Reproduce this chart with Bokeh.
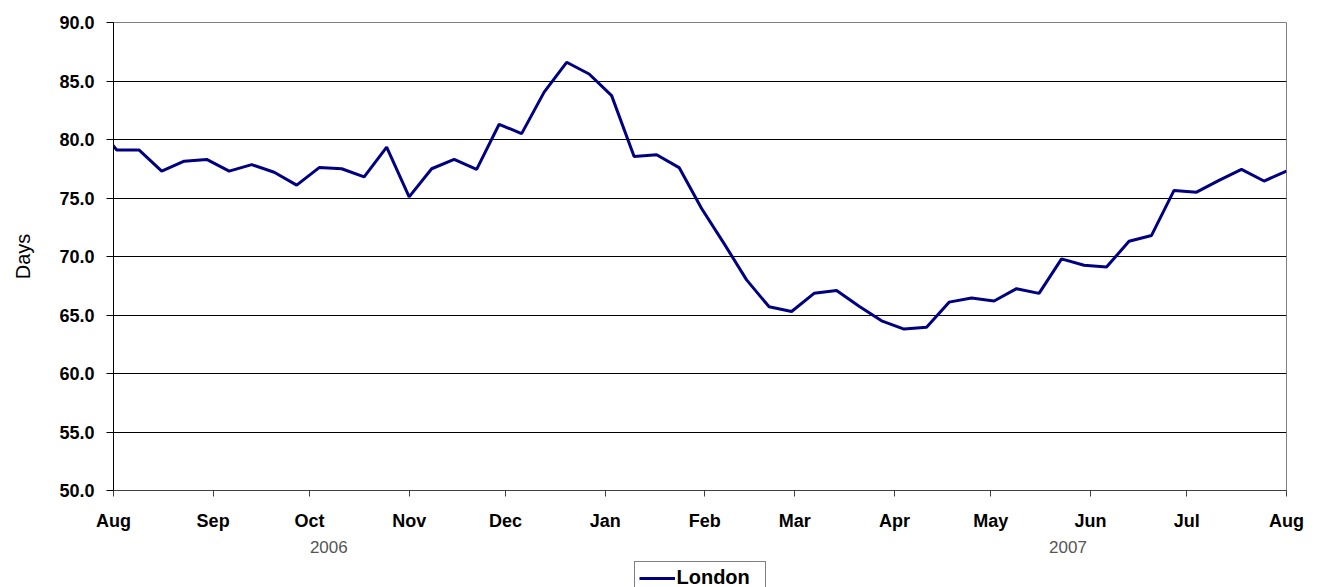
import pandas as pd
from bokeh.plotting import figure
from bokeh.layouts import column
from bokeh.models import (DatetimeTickFormatter, MonthsTicker, FixedTicker, NumeralTickFormatter,
                          Range1d, Legend, LegendItem, LinearAxis)
from bokeh.embed import file_html
from bokeh.resources import INLINE

# ---------------- data ----------------
series_name = "London"
first_week = "2006-07-26"          # weekly observations (first one lies just before the axis start)
days_values = [81.5, 79.1, 79.1, 77.3, 78.15, 78.3, 77.3, 77.85, 77.2, 76.1, 77.6, 77.5, 76.8, 79.35,
               75.1, 77.5, 78.3, 77.45, 81.3, 80.5, 84.05, 86.6, 85.6, 83.75, 78.55, 78.7, 77.6,
               74.1, 71.1, 68.0, 65.7, 65.3, 66.85, 67.1, 65.75, 64.5, 63.8, 63.95, 66.1, 66.45,
               66.2, 67.25, 66.85, 69.8, 69.25, 69.1, 71.3, 71.8, 75.65, 75.5, 76.5, 77.45, 76.45, 77.3]
x_start = "2006-08-01"
x_end = "2007-08-01"
y_ticks = [50.0, 55.0, 60.0, 65.0, 70.0, 75.0, 80.0, 85.0, 90.0]
year_labels = ["2006", "2007"]
year_label_dates = ["2006-10-07", "2007-05-25"]
y_axis_title = "Days"

dates = pd.date_range(first_week, periods=len(days_values), freq="7D")

FONT = "Liberation Sans"
LINE_COLOR = "#000080"

def ms(d):
    return int(pd.Timestamp(d).value // 1_000_000)

x_rng = Range1d(ms(x_start), ms(x_end))

p = figure(width=1319, height=559, x_axis_type="datetime",
           x_range=x_rng,
           y_range=Range1d(y_ticks[0], y_ticks[-1]),
           output_backend="svg", toolbar_location=None,
           min_border_left=113, min_border_right=33, min_border_top=22, min_border_bottom=69)

p.background_fill_color = "white"
p.border_fill_color = "white"
p.outline_line_color = "#808080"
p.outline_line_width = 1

r = p.line(x=dates, y=days_values, line_color=LINE_COLOR, line_width=3)

# grid
p.xgrid.visible = False
p.ygrid.ticker = FixedTicker(ticks=y_ticks[1:-1])
p.ygrid.grid_line_color = "black"
p.ygrid.grid_line_width = 1

# y axis
ya = p.yaxis[0]
ya.ticker = FixedTicker(ticks=y_ticks)
ya.formatter = NumeralTickFormatter(format="0.0")
ya.axis_label = y_axis_title
ya.axis_label_text_font = FONT
ya.axis_label_text_font_size = "20px"
ya.axis_label_text_font_style = "normal"
ya.axis_label_text_color = "black"
ya.axis_label_standoff = 22
ya.major_label_text_font = FONT
ya.major_label_text_font_size = "18px"
ya.major_label_text_font_style = "bold"
ya.major_label_text_color = "black"
ya.major_label_standoff = 12
ya.major_tick_in = 0
ya.major_tick_out = 7
ya.minor_tick_out = 0
ya.minor_tick_in = 0
ya.axis_line_color = "black"
ya.major_tick_line_color = "black"

# x axis (months)
xa = p.xaxis[0]
xa.ticker = MonthsTicker(months=list(range(12)))
xa.formatter = DatetimeTickFormatter(months="%b", days="%b", years="%b")
xa.major_label_text_font = FONT
xa.major_label_text_font_size = "18px"
xa.major_label_text_font_style = "bold"
xa.major_label_text_color = "black"
xa.major_label_standoff = 14
xa.major_tick_in = 0
xa.major_tick_out = 6
xa.minor_tick_out = 0
xa.minor_tick_in = 0
xa.axis_line_color = "#404040"
xa.major_tick_line_color = "#404040"

# second level of the date axis: the years
year_ticks = [ms(d) for d in year_label_dates]
xa2 = LinearAxis(ticker=FixedTicker(ticks=year_ticks),
                 major_label_overrides=dict(zip(year_ticks, year_labels)))
xa2.axis_line_color = None
xa2.major_tick_line_color = None
xa2.minor_tick_line_color = None
xa2.major_tick_in = 0
xa2.major_tick_out = 0
xa2.minor_tick_in = 0
xa2.minor_tick_out = 0
xa2.major_label_standoff = 7
xa2.major_label_text_font = FONT
xa2.major_label_text_font_size = "17px"
xa2.major_label_text_color = "#555555"
p.add_layout(xa2, "below")

# legend strip underneath the chart (same series, drawn outside this strip's view so only the key shows)
p2 = figure(width=1319, height=28, output_backend="svg", toolbar_location=None,
            x_range=x_rng, y_range=Range1d(0, 1),
            x_axis_location=None, y_axis_location=None,
            min_border_left=113, min_border_right=33, min_border_top=0, min_border_bottom=0)
p2.outline_line_color = None
p2.background_fill_color = "white"
p2.border_fill_color = "white"
p2.xgrid.visible = False
p2.ygrid.visible = False
r2 = p2.line(x=dates, y=days_values, line_color=LINE_COLOR, line_width=3)

legend = Legend(items=[LegendItem(label=series_name, renderers=[r2])], location="top_center")
legend.border_line_color = "black"
legend.border_line_width = 1
legend.background_fill_color = "white"
legend.background_fill_alpha = 1
legend.label_text_font = FONT
legend.label_text_font_size = "20px"
legend.label_text_font_style = "bold"
legend.label_text_color = "black"
legend.glyph_width = 36
legend.glyph_height = 18
legend.label_height = 18
legend.label_width = 84
legend.label_standoff = 2
legend.padding = 4
legend.spacing = 0
legend.margin = 2
p2.add_layout(legend)

layout = column(p, p2, spacing=0)
open("out.html", "w").write(file_html(layout, INLINE))
